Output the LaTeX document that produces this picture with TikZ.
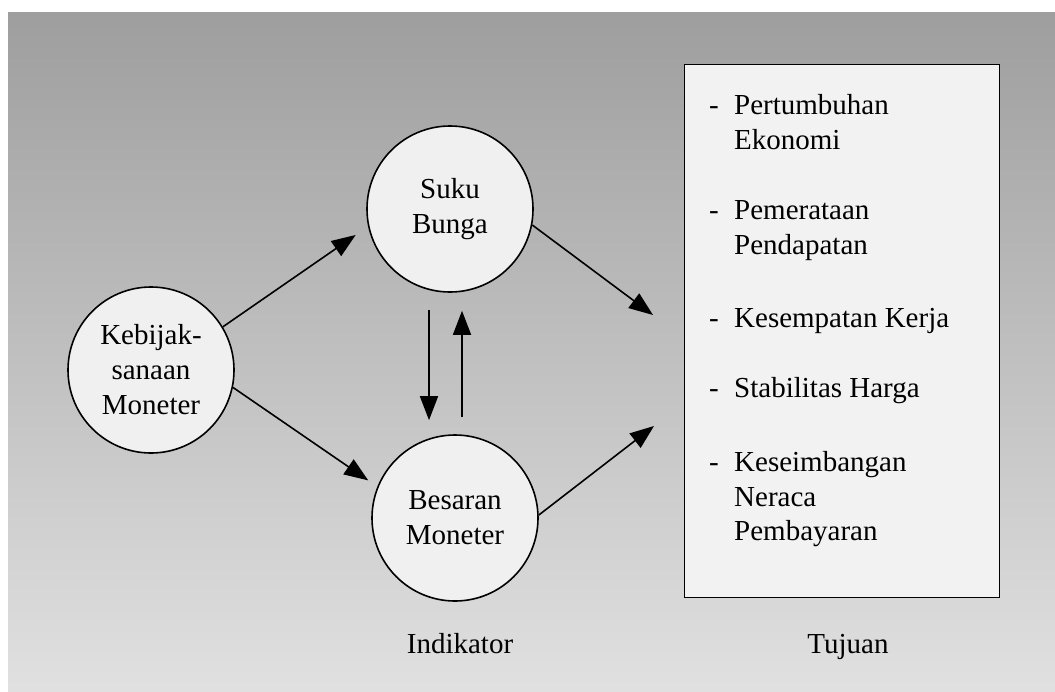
\documentclass[tikz,border=0pt]{standalone}
\usepackage{fontspec}
\setmainfont{Liberation Serif}
\usetikzlibrary{arrows.meta}

\tikzset{
  bulat/.style={circle, draw, line width=1.6pt, fill=black!6, minimum size=166pt,
    inner sep=0pt, align=center, font=\fontsize{29}{35}\selectfont},
  panah/.style={line width=1.6pt, -{Triangle[length=24pt,width=18pt]}},
  teks/.style={font=\fontsize{29}{35}\selectfont}
}

\begin{document}
\begin{tikzpicture}[x=1pt,y=-1pt]
        \useasboundingbox (0,0) rectangle (1055,691);
        \shade[top color=black!38, bottom color=black!12] (8,12) rectangle (1055,691);
        \node[bulat] (K) at (151,370) {Kebijak-\\sanaan\\Moneter};
        \node[bulat] (S) at (450,209) {Suku\\Bunga};
        \node[bulat] (B) at (455,518) {Besaran\\Moneter};
        \node[draw, line width=1.6pt, fill=black!5, minimum width=315pt, minimum height=533pt,
          inner sep=0pt] (T) at (842,331) {};
        \coordinate (masuk1) at (653,315);
        \coordinate (masuk2) at (654,426);
        \draw [panah, shorten >=15pt] (K.31) -- (S.192);
        \draw [panah, shorten >=11pt] (K.-12) -- (B.158);
        \draw [panah] (S.-11) -- (masuk1);
        \draw [panah] (B.2) -- (masuk2);
        \draw [panah, shorten <=17pt, shorten >=14pt] ([xshift=-21pt]S.south) -- ([xshift=-26pt]B.north);
        \draw [panah, shorten <=17pt, shorten >=18pt] ([xshift=7pt]B.north) -- ([xshift=12pt]S.south);
        % daftar tujuan, satu baris satu node
        \foreach \y/\isi/\tanda [count=\i] in {114/Pertumbuhan/-, 149/Ekonomi/, 219/Pemerataan/-,
            254/Pendapatan/, 327/Kesempatan Kerja/-, 397/Stabilitas Harga/-, 471/Keseimbangan/-,
            506/Neraca/, 540/Pembayaran/} {
          \node[teks, anchor=base west, inner sep=0pt] (strip\i) at (709,\y) {\tanda};
          \node[teks, anchor=base west, inner sep=0pt] (tujuan\i) at (734,\y) {\isi};
        }
        \node[teks, anchor=base] (ind) at (460,653) {Indikator};
        \node[teks, anchor=base] (tuj) at (848,653) {Tujuan};
    \end{tikzpicture}
\end{document}
